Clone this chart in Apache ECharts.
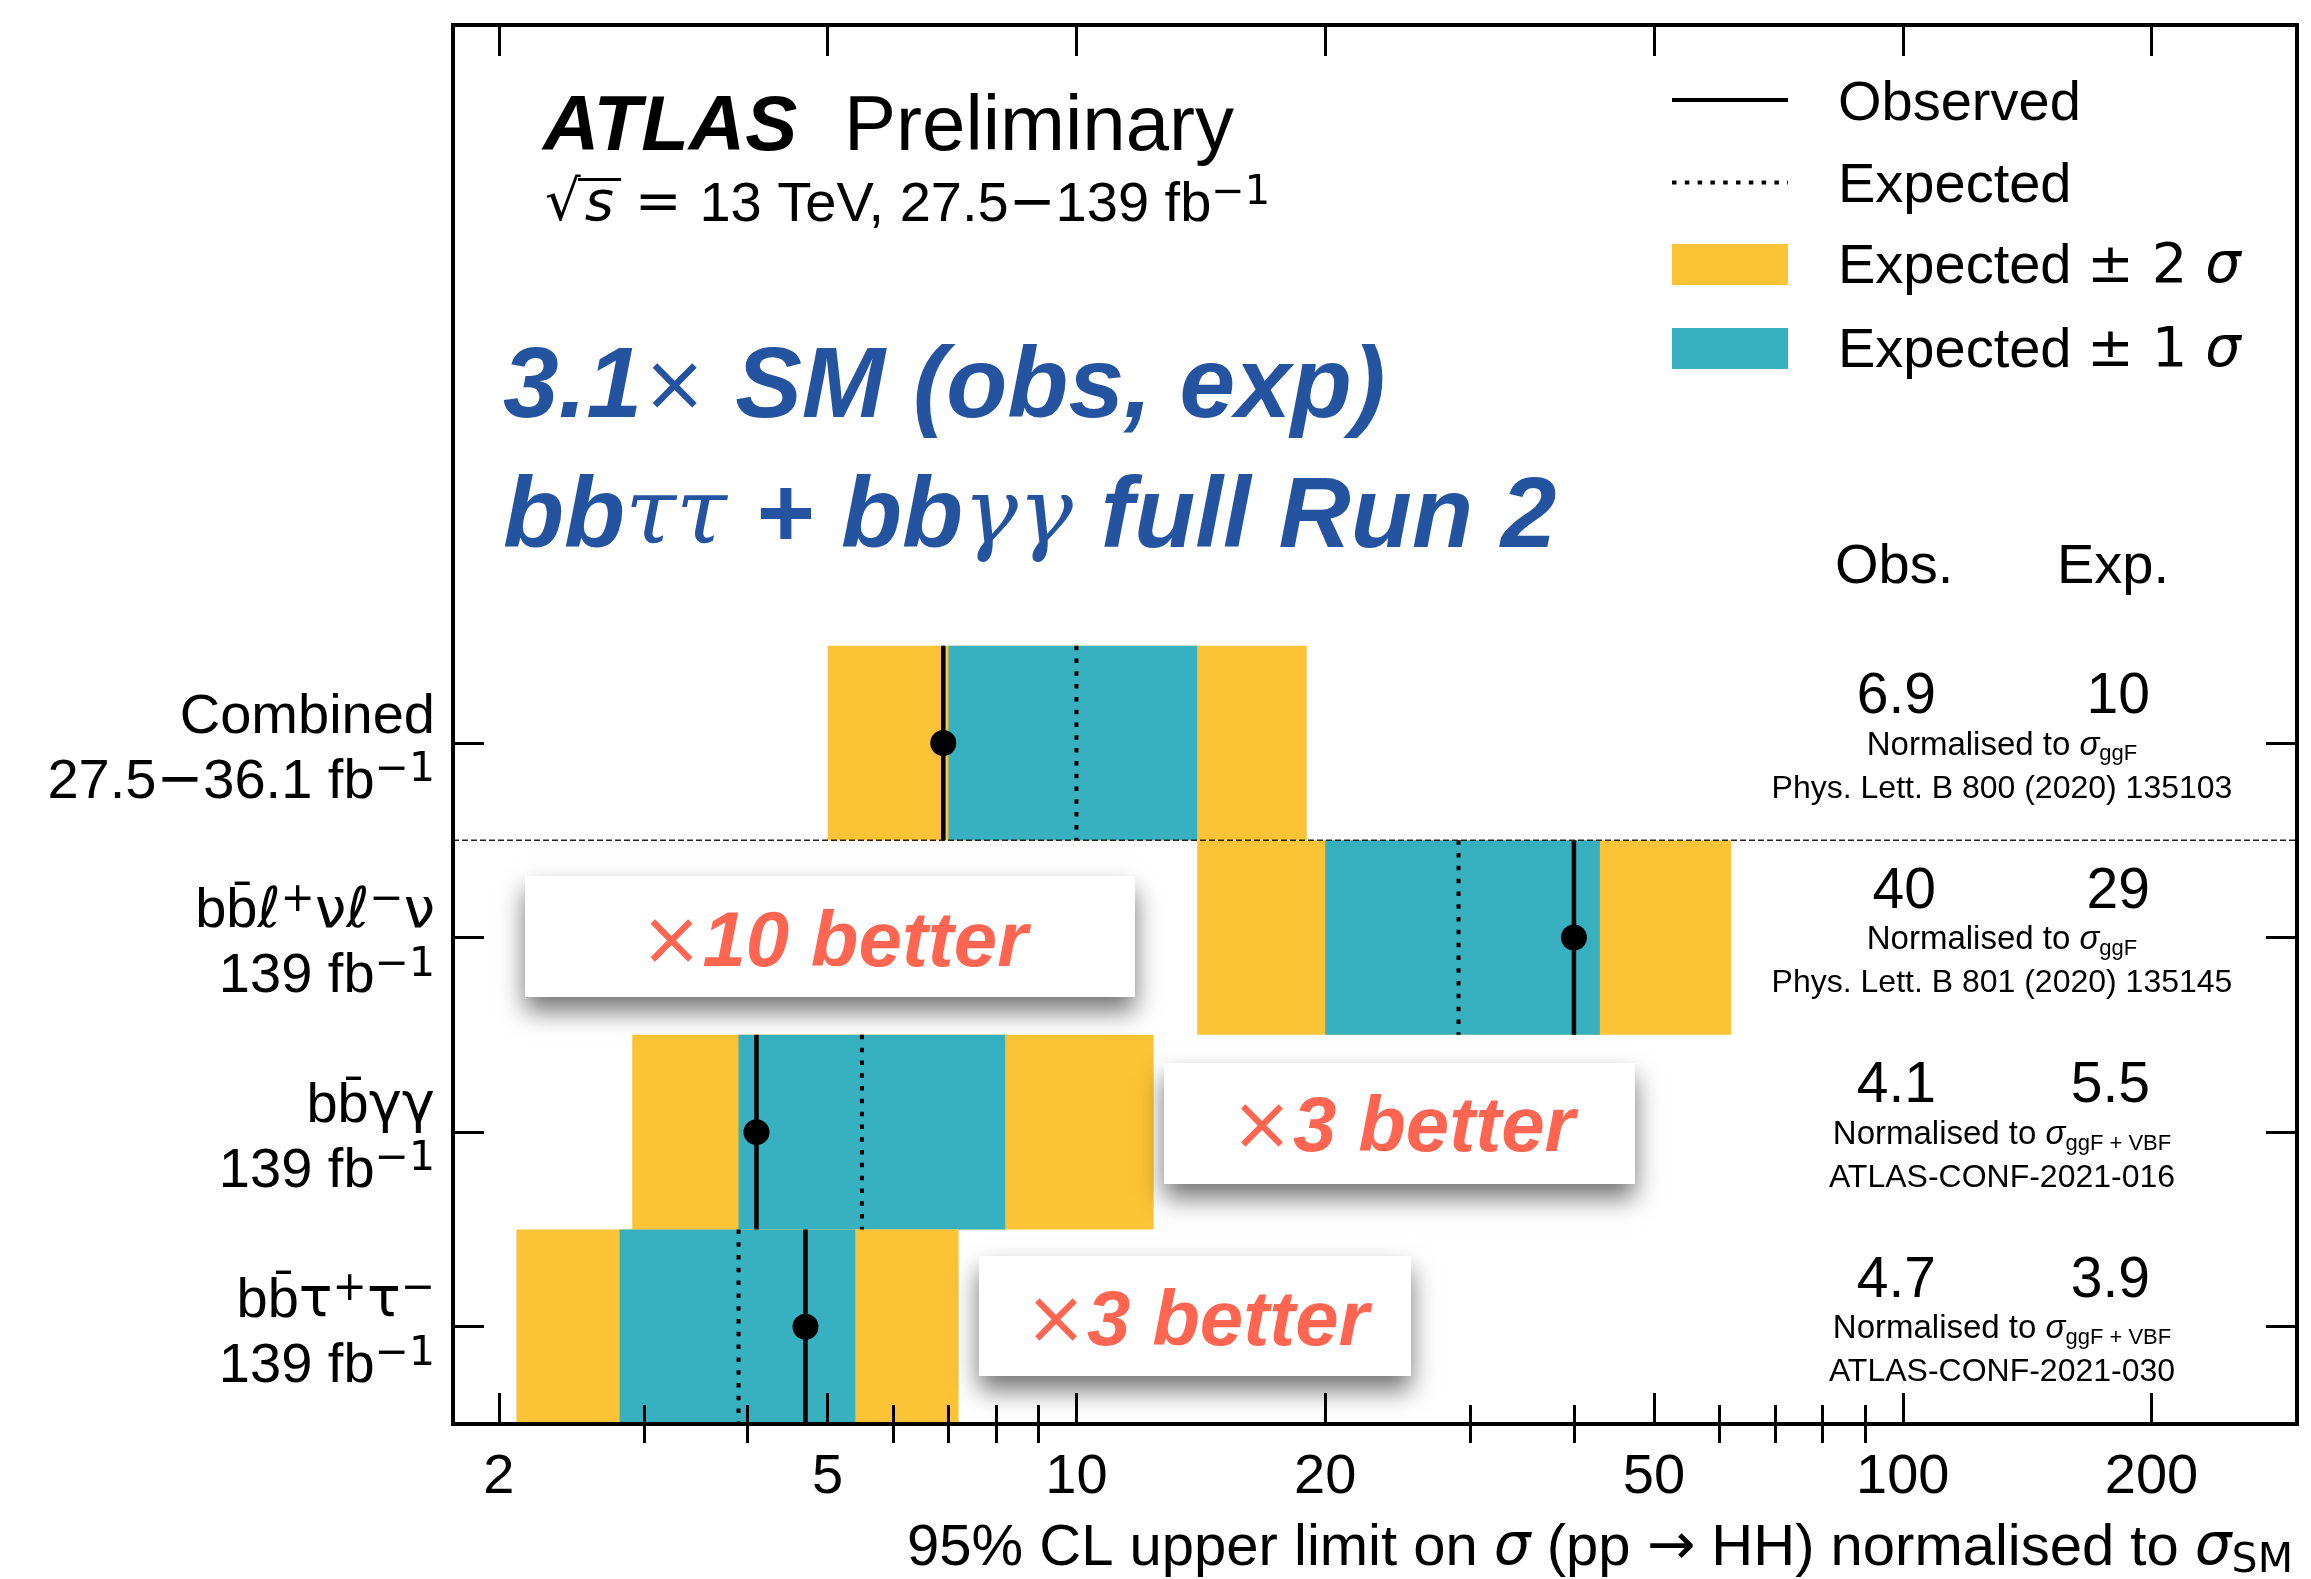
<!DOCTYPE html>
<html>
<head>
<meta charset="utf-8">
<script src="https://cdn.jsdelivr.net/npm/echarts@6/dist/echarts.min.js"></script>
<style>
  html, body { margin: 0; padding: 0; background: #ffffff; }
  #main { width: 2311px; height: 1579px; }
</style>
</head>
<body>
<div id="main"></div>
<script>
// HH search channels, listed from the top row down
const channelNames = ['Combined', 'bb\u0304ℓ⁺νℓ⁻ν', 'bb\u0304γγ', 'bb\u0304τ⁺τ⁻'];
const channelLumi = ['27.5−36.1 fb⁻¹', '139 fb⁻¹', '139 fb⁻¹', '139 fb⁻¹'];

// 95% CL upper limits on sigma(pp -> HH) / sigma_SM
const observed = [6.9, 40, 4.1, 4.7];
const expected = [10, 29, 5.5, 3.9];
const minus1Sigma = [7.0, 20, 3.9, 2.8];
const plus1Sigma = [14, 43, 8.2, 5.4];
const minus2Sigma = [5.0, 14, 2.9, 2.1];
const plus2Sigma = [19, 62, 12.4, 7.2];

const normalisation = ['ggF', 'ggF', 'ggF + VBF', 'ggF + VBF'];
const references = [
  'Phys. Lett. B 800 (2020) 135103',
  'Phys. Lett. B 801 (2020) 135145',
  'ATLAS-CONF-2021-016',
  'ATLAS-CONF-2021-030'
];
const improvementFactors = ['', '10', '3', '3'];

const xMajorTicks = [2, 5, 10, 20, 50, 100, 200];
const xMinorTicks = [3, 4, 6, 7, 8, 9, 30, 40, 60, 70, 80, 90];
const xRange = [1.76, 300];

// ---------------------------------------------------------------
const SANS = 'Liberation Sans';
const MATH = 'DejaVu Sans';
const MATHSERIF = 'DejaVu Serif';
const BLUE = '#2453a0';
const CORAL = '#ff6550';
const YELLOW = '#fdc336';
const CYAN = '#37b1bf';

const nRows = channelNames.length;
const rowY = i => nRows - i - 0.5;          // row centre on the y value axis
const rowPositions = channelNames.map((_, i) => rowY(i));
const yMax = 7.19;

// middle-anchored text: convert a baseline position to the box centre
const mid = (baseline, size) => baseline - 0.29 * size;

// split a label into rich-text tokens: text (t), math symbols (m), superscripts (sup)
function richify(str) {
  const supMap = { '⁺': '+', '⁻': '−', '¹': '1' };
  const mathChars = 'ℓνγτσ−×→±';
  let out = '', buf = '', kind = null;
  const flush = () => { if (buf) out += '{' + kind + '|' + buf + '}'; buf = ''; };
  for (const ch of str) {
    let k = 't', c = ch;
    if (supMap[ch]) { k = 'sup'; c = supMap[ch]; }
    else if (mathChars.indexOf(ch) >= 0) k = 'm';
    if (k !== kind) { flush(); kind = k; }
    buf += c;
  }
  flush();
  return out;
}

const chart = echarts.init(document.getElementById('main'), null, { renderer: 'canvas' });

const frameAxisLine = { show: true, onZero: false, lineStyle: { color: '#000', width: 4, cap: 'square' } };
const majorTick = { show: true, inside: true, length: 31, lineStyle: { color: '#000', width: 3 } };
const minorTick = { show: true, inside: true, length: 19, lineStyle: { color: '#000', width: 3 } };

function logAxis(position, ticks, tickStyle, withLabels, withLine) {
  return {
    type: 'log', logBase: 10, min: xRange[0], max: xRange[1], position: position,
    z: 10,
    axisLine: withLine ? frameAxisLine : { show: false },
    splitLine: { show: false },
    minorTick: { show: false },
    axisTick: Object.assign({}, tickStyle, { customValues: ticks }),
    axisLabel: withLabels ? {
      show: true, customValues: ticks, margin: 26,
      fontSize: 56, fontFamily: SANS, color: '#000',
      formatter: v => String(Math.round(v))
    } : { show: false }
  };
}

const labelRich = {
  t: { fontSize: 56, fontFamily: SANS, color: '#000', lineHeight: 65 },
  m: { fontSize: 56, fontFamily: MATH, color: '#000', lineHeight: 65 },
  sup: { fontSize: 41, fontFamily: MATH, color: '#000', lineHeight: 34, verticalAlign: 'top' }
};

// bands: [lo2, hi2, lo1, hi1, y]
const bandData = channelNames.map((_, i) =>
  [minus2Sigma[i], plus2Sigma[i], minus1Sigma[i], plus1Sigma[i], rowY(i)]);

function rectBetween(api, lo, hi, y, fill) {
  const p0 = api.coord([lo, y + 0.5]);
  const p1 = api.coord([hi, y - 0.5]);
  return {
    type: 'rect',
    shape: { x: p0[0], y: p0[1], width: p1[0] - p0[0], height: p1[1] - p0[1] },
    style: { fill: fill }
  };
}

function verticalAt(api, x, y, style) {
  const p0 = api.coord([x, y + 0.5]);
  const p1 = api.coord([x, y - 0.5]);
  return {
    type: 'line',
    shape: { x1: p0[0], y1: p0[1], x2: p1[0], y2: p1[1] },
    style: style
  };
}

const option = {
  animation: false,
  backgroundColor: '#ffffff',
  textStyle: { fontFamily: SANS },
  grid: {
    left: 453, right: 14, top: 25, bottom: 155,
    containLabel: false, outerBoundsMode: 'none', show: false
  },
  xAxis: [
    logAxis('bottom', xMajorTicks, majorTick, true, true),
    logAxis('bottom', xMinorTicks, minorTick, false, false),
    logAxis('top', xMajorTicks, majorTick, false, true),
    logAxis('top', xMinorTicks, minorTick, false, false)
  ],
  yAxis: [
    {
      type: 'value', min: 0, max: yMax, position: 'left', z: 10,
      axisLine: frameAxisLine, splitLine: { show: false },
      axisTick: Object.assign({}, majorTick, { customValues: rowPositions }),
      axisLabel: {
        show: true, customValues: rowPositions, margin: 18,
        align: 'right', verticalAlign: 'middle', padding: [14, 0, 0, 0],
        formatter: v => {
          const i = Math.round(nRows - 0.5 - v);
          return richify(channelNames[i]) + '\n' + richify(channelLumi[i]);
        },
        rich: labelRich
      }
    },
    {
      type: 'value', min: 0, max: yMax, position: 'right', z: 10,
      axisLine: frameAxisLine, splitLine: { show: false },
      axisTick: Object.assign({}, majorTick, { customValues: rowPositions }),
      axisLabel: { show: false }
    }
  ],
  series: [
    {
      // expected +-2 sigma and +-1 sigma bands
      name: 'bands', type: 'custom', xAxisIndex: 0, yAxisIndex: 0,
      data: bandData, encode: { x: [0, 1, 2, 3], y: 4 },
      renderItem: (params, api) => {
        const y = api.value(4);
        return {
          type: 'group',
          children: [
            rectBetween(api, api.value(0), api.value(1), y, YELLOW),
            rectBetween(api, api.value(2), api.value(3), y, CYAN)
          ]
        };
      }
    },
    {
      // separator between the earlier combination and the new channels
      name: 'separator', type: 'line', xAxisIndex: 0, yAxisIndex: 0,
      data: [[xRange[0], nRows - 1], [xRange[1], nRows - 1]],
      symbol: 'none', silent: true,
      lineStyle: { color: '#222', width: 1.6, type: [6, 3] }
    },
    {
      name: 'Expected', type: 'custom', xAxisIndex: 0, yAxisIndex: 0,
      data: expected.map((v, i) => [v, rowY(i)]), encode: { x: 0, y: 1 },
      renderItem: (params, api) => verticalAt(api, api.value(0), api.value(1),
        { stroke: '#000', lineWidth: 4, lineDash: [4.5, 8.3], lineCap: 'butt' })
    },
    {
      name: 'Observed', type: 'custom', xAxisIndex: 0, yAxisIndex: 0,
      data: observed.map((v, i) => [v, rowY(i)]), encode: { x: 0, y: 1 },
      renderItem: (params, api) => verticalAt(api, api.value(0), api.value(1),
        { stroke: '#000', lineWidth: 4.5 })
    },
    {
      name: 'Observed point', type: 'scatter', xAxisIndex: 0, yAxisIndex: 0,
      data: observed.map((v, i) => [v, rowY(i)]),
      symbol: 'circle', symbolSize: 26, z: 5,
      itemStyle: { color: '#000', opacity: 1 },
      emphasis: { disabled: true }
    },
    {
      // per-channel limit values and references on the right
      name: 'values', type: 'custom', xAxisIndex: 0, yAxisIndex: 0,
      data: expected.map((v, i) => [v, rowY(i)]), encode: { x: 0, y: 1 },
      renderItem: (params, api) => {
        const i = params.dataIndex;
        const cs = params.coordSys;
        const right = cs.x + cs.width;
        const c = api.coord([api.value(0), api.value(1)])[1];
        const num = (txt, x) => ({
          type: 'text', x: x, y: mid(c - 29, 57),
          style: { text: txt, fontSize: 57, fontFamily: SANS, fill: '#000', align: 'right', verticalAlign: 'middle' }
        });
        return {
          type: 'group',
          children: [
            num(String(observed[i]), right - 361),
            num(String(expected[i]), right - 147),
            {
              type: 'text', x: right - 295, y: mid(c + 12, 33),
              style: {
                text: '{n|Normalised to }{s|σ}{sub|' + normalisation[i] + '}',
                align: 'center', verticalAlign: 'middle',
                rich: {
                  n: { fontSize: 33, fontFamily: SANS, fill: '#000', lineHeight: 40 },
                  s: { fontSize: 33, fontFamily: SANS, fontStyle: 'italic', fill: '#000', lineHeight: 40 },
                  sub: { fontSize: 22, fontFamily: SANS, fill: '#000', lineHeight: 22, verticalAlign: 'bottom' }
                }
              }
            },
            {
              type: 'text', x: right - 295, y: mid(c + 55, 32),
              style: { text: references[i], fontSize: 32, fontFamily: SANS, fill: '#000', align: 'center', verticalAlign: 'middle' }
            }
          ]
        };
      }
    }
  ],
  graphic: []
};

// ---- header, legend, axis title and call-out boxes --------------------
const g = [];
g.push({ type: 'text', x: 543, y: mid(151, 78), z: 50,
  style: { text: 'ATLAS', font: 'italic bold 78px "Liberation Sans"', fill: '#000', verticalAlign: 'middle' } });
g.push({ type: 'text', x: 844, y: mid(151, 78), z: 50,
  style: { text: 'Preliminary', font: '78px "Liberation Sans"', fill: '#000', verticalAlign: 'middle' } });
g.push({ type: 'text', x: 545, y: mid(222, 56), z: 50,
  style: {
    text: '{m|√}{i|s}{m| = }{n|13 TeV, 27.5}{m|−}{n|139 fb}{sup|−1}', verticalAlign: 'middle',
    rich: {
      n: { fontSize: 56, fontFamily: SANS, fill: '#000', lineHeight: 64 },
      m: { fontSize: 56, fontFamily: MATH, fill: '#000', lineHeight: 64 },
      i: { fontSize: 56, fontFamily: MATH, fontStyle: 'italic', fill: '#000', lineHeight: 64, padding: [0, 3, 0, 4] },
      sup: { fontSize: 40, fontFamily: MATH, fill: '#000', lineHeight: 36, verticalAlign: 'top' }
    }
  } });
// vinculum of the square root
g.push({ type: 'line', z: 50, shape: { x1: 578, y1: 179.5, x2: 621, y2: 179.5 },
  style: { stroke: '#000', lineWidth: 3 } });

const blueRich = {
  b: { fontSize: 100, fontFamily: SANS, fontWeight: 'bold', fontStyle: 'italic', fill: BLUE, lineHeight: 120 },
  x: { fontSize: 78, fontFamily: MATH, fill: BLUE, lineHeight: 120 },
  g: { fontSize: 92, fontFamily: MATHSERIF, fontStyle: 'italic', fill: BLUE, lineHeight: 120 }
};
g.push({ type: 'text', x: 503, y: mid(419, 102), z: 50,
  style: { text: '{b|3.1}{x|×}{b| SM (obs, exp)}', verticalAlign: 'middle', rich: blueRich } });
g.push({ type: 'text', x: 503, y: mid(549, 102), z: 50,
  style: { text: '{b|bb}{g|ττ}{b| + bb}{g|γγ}{b| full Run 2}', verticalAlign: 'middle', rich: blueRich } });

// legend
const legRich = {
  n: { fontSize: 56, fontFamily: SANS, fill: '#000', lineHeight: 64 },
  m: { fontSize: 56, fontFamily: MATH, fill: '#000', lineHeight: 64 },
  i: { fontSize: 56, fontFamily: MATH, fontStyle: 'italic', fill: '#000', lineHeight: 64 }
};
g.push({ type: 'line', z: 50, shape: { x1: 1672, y1: 100, x2: 1788, y2: 100 }, style: { stroke: '#000', lineWidth: 4 } });
g.push({ type: 'line', z: 50, shape: { x1: 1672, y1: 182.5, x2: 1788, y2: 182.5 },
  style: { stroke: '#000', lineWidth: 4, lineDash: [4.5, 8.3] } });
g.push({ type: 'rect', z: 50, shape: { x: 1672, y: 244, width: 116, height: 41 }, style: { fill: YELLOW } });
g.push({ type: 'rect', z: 50, shape: { x: 1672, y: 328, width: 116, height: 41 }, style: { fill: CYAN } });
[['{n|Observed}', 121], ['{n|Expected}', 203],
 ['{n|Expected }{m|± 2 }{i|σ}', 284], ['{n|Expected }{m|± 1 }{i|σ}', 368]]
  .forEach(([t, b]) => g.push({ type: 'text', x: 1838, y: mid(b, 56), z: 50,
    style: { text: t, verticalAlign: 'middle', rich: legRich } }));

// column headers
g.push({ type: 'text', x: 1835, y: mid(584, 56), z: 50,
  style: { text: 'Obs.', fontSize: 56, fontFamily: SANS, fill: '#000', verticalAlign: 'middle' } });
g.push({ type: 'text', x: 2057, y: mid(584, 56), z: 50,
  style: { text: 'Exp.', fontSize: 56, fontFamily: SANS, fill: '#000', verticalAlign: 'middle' } });

// x-axis title
g.push({ type: 'text', x: 2293, y: mid(1566, 58), z: 50,
  style: {
    text: '{n|95% CL upper limit on }{i|σ}{n| (pp }{m|→}{n| HH) normalised to }{i|σ}{sub|SM}',
    align: 'right', verticalAlign: 'middle',
    rich: {
      n: { fontSize: 58, fontFamily: SANS, fill: '#000', lineHeight: 66 },
      m: { fontSize: 58, fontFamily: MATH, fill: '#000', lineHeight: 66 },
      i: { fontSize: 58, fontFamily: MATH, fontStyle: 'italic', fill: '#000', lineHeight: 66 },
      sub: { fontSize: 41, fontFamily: MATH, fill: '#000', lineHeight: 41, verticalAlign: 'bottom' }
    }
  } });

// call-out boxes next to the new channels
const boxLayout = [null,
  { x: 525, y: 876, w: 610, h: 121, tx: 834, tb: 967 },
  { x: 1164, y: 1063, w: 471, h: 121, tx: 1403, tb: 1152 },
  { x: 979, y: 1256, w: 432, h: 120, tx: 1197, tb: 1346 }];
const calloutRich = {
  x: { fontSize: 74, fontFamily: MATH, fill: CORAL, lineHeight: 90 },
  b: { fontSize: 78, fontFamily: SANS, fontWeight: 'bold', fontStyle: 'italic', fill: CORAL, lineHeight: 90 }
};
improvementFactors.forEach((f, i) => {
  const L = boxLayout[i];
  if (!f || !L) return;
  g.push({ type: 'rect', z: 60, shape: { x: L.x, y: L.y, width: L.w, height: L.h },
    style: { fill: '#ffffff', shadowBlur: 24, shadowOffsetY: 14, shadowColor: 'rgba(0,0,0,0.55)' } });
  g.push({ type: 'text', x: L.tx, y: mid(L.tb, 78), z: 61,
    style: { text: '{x|×}{b|' + f + ' better}', align: 'center', verticalAlign: 'middle', rich: calloutRich } });
});

option.graphic = g;
chart.setOption(option);
</script>
</body>
</html>
